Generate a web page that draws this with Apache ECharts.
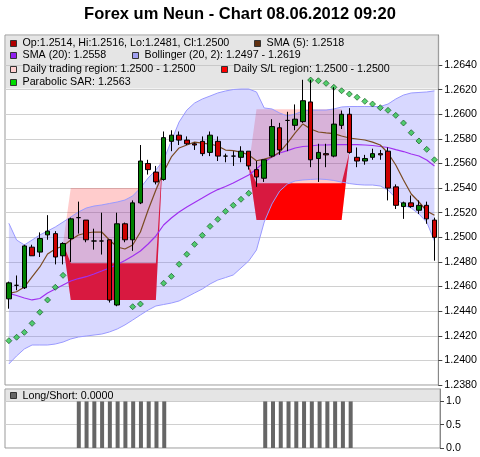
<!DOCTYPE html>
<html><head><meta charset="utf-8">
<script src="https://cdn.jsdelivr.net/npm/echarts@6/dist/echarts.min.js"></script>
<style>html,body{margin:0;padding:0;background:#fff}#c{width:480px;height:457px}</style>
</head><body><div id="c"></div>
<script>
const chartTitle = 'Forex um Neun - Chart 08.06.2012 09:20';
const opens = [1.2450,1.2461,1.2459,1.2492,1.2488,1.2502,1.2503,1.2485,1.2499,1.2516,
 1.2514,1.2497,1.2497,1.2498,1.2445,1.2511,1.2498,1.2528,1.2560,1.2553,
 1.2547,1.2578,1.2583,1.2579,1.2576,1.2578,1.2569,1.2578,1.2566,1.2566,
 1.2565,1.2570,1.2555,1.2548,1.2566,1.2589,1.2595,1.2591,1.2594,1.2610,
 1.2564,1.2568,1.2566,1.2591,1.2600,1.2565,1.2562,1.2565,1.2568,1.2570,
 1.2541,1.2525,1.2528,1.2522,1.2526,1.2514];
const highs = [1.2464,1.2469,1.2494,1.2494,1.2504,1.2518,1.2505,1.2496,1.2516,1.2529,
 1.2514,1.2507,1.2520,1.2498,1.2520,1.2512,1.2530,1.2575,1.2563,1.2558,
 1.2586,1.2587,1.2586,1.2582,1.2577,1.2582,1.2586,1.2582,1.2568,1.2570,
 1.2574,1.2570,1.2562,1.2563,1.2596,1.2593,1.2602,1.2608,1.2628,1.2628,
 1.2576,1.2576,1.2622,1.2603,1.2605,1.2573,1.2567,1.2572,1.2571,1.2573,
 1.2543,1.2529,1.2534,1.2530,1.2529,1.2516];
const lows = [1.2442,1.2457,1.2458,1.2485,1.2484,1.2498,1.2478,1.2478,1.2480,1.2503,
 1.2496,1.2490,1.2486,1.2447,1.2444,1.2496,1.2489,1.2527,1.2551,1.2543,
 1.2546,1.2570,1.2575,1.2575,1.2571,1.2566,1.2566,1.2562,1.2561,1.2558,
 1.2561,1.2555,1.2541,1.2545,1.2565,1.2567,1.2570,1.2587,1.2593,1.2557,
 1.2545,1.2557,1.2565,1.2588,1.2568,1.2557,1.2559,1.2563,1.2563,1.2530,
 1.2523,1.2515,1.2524,1.2519,1.2511,1.2481];
const closes = [1.2463,1.2461,1.2493,1.2485,1.2499,1.2505,1.2484,1.2495,1.2515,1.2516,
 1.2498,1.2497,1.2497,1.2449,1.2511,1.2498,1.2528,1.2562,1.2555,1.2545,
 1.2581,1.2583,1.2579,1.2576,1.2575,1.2568,1.2583,1.2566,1.2566,1.2566,
 1.2570,1.2558,1.2549,1.2563,1.2590,1.2571,1.2595,1.2596,1.2611,1.2563,
 1.2569,1.2567,1.2592,1.2600,1.2569,1.2562,1.2564,1.2568,1.2567,1.2540,
 1.2526,1.2528,1.2525,1.2526,1.2515,1.2500];
const sma5 = [1.24545,1.24558,1.24596,1.24678,1.24759,1.24864,1.24905,1.24929,1.24978,1.25019,
 1.25035,1.25043,1.25043,1.24978,1.24921,1.24905,1.24938,1.25043,1.25222,1.25384,
 1.25531,1.25653,1.25726,1.25750,1.25774,1.25766,1.25758,1.25742,1.25709,1.25705,
 1.25693,1.25669,1.25622,1.25636,1.25653,1.25693,1.25766,1.25848,1.25921,1.25880,
 1.25856,1.25848,1.25843,1.25823,1.25807,1.25799,1.25791,1.25774,1.25750,1.25685,
 1.25588,1.25466,1.25352,1.25287,1.25214,1.2518];
const sma20 = [1.24545,1.24527,1.24507,1.24491,1.24503,1.24548,1.24580,1.24613,1.24645,1.24665,
 1.24680,1.24702,1.24726,1.24751,1.24779,1.24812,1.24848,1.24889,1.24946,1.25011,
 1.25100,1.25157,1.25206,1.25246,1.25283,1.25319,1.25356,1.25388,1.25413,1.25441,
 1.25474,1.25506,1.25555,1.25612,1.25653,1.25685,1.25705,1.25726,1.25738,1.25742,
 1.25750,1.25750,1.25754,1.25754,1.25754,1.25754,1.25750,1.25746,1.25738,1.25730,
 1.25713,1.25697,1.25677,1.25661,1.25628,1.2558];
const bollUpper = [1.25114,1.24978,1.24938,1.24978,1.25019,1.25051,1.25084,1.25124,1.25165,1.25206,
 1.25238,1.25254,1.25263,1.25275,1.25287,1.25303,1.25336,1.25401,1.25482,1.25547,
 1.25628,1.25783,1.25937,1.26034,1.26091,1.26124,1.26148,1.26173,1.26189,1.26201,
 1.26205,1.26205,1.26181,1.26051,1.26043,1.26010,1.25986,1.26002,1.26026,1.26034,
 1.26034,1.26034,1.26043,1.26059,1.26063,1.26063,1.26063,1.26063,1.26063,1.26083,
 1.26124,1.26156,1.26173,1.26177,1.26181,1.2619];
const bollLower = [1.23971,1.24036,1.24093,1.24125,1.24125,1.24125,1.24133,1.24149,1.24174,1.24190,
 1.24198,1.24206,1.24214,1.24231,1.24255,1.24288,1.24328,1.24369,1.24409,1.24442,
 1.24454,1.24466,1.24483,1.24515,1.24548,1.24580,1.24621,1.24653,1.24673,1.24694,
 1.24751,1.24808,1.24897,1.25124,1.25271,1.25376,1.25433,1.25458,1.25466,1.25470,
 1.25474,1.25470,1.25462,1.25449,1.25437,1.25429,1.25425,1.25425,1.25417,1.25384,
 1.25319,1.25263,1.25238,1.25189,1.25124,1.2497];
const sar = [1.24160,1.24188,1.24228,1.24301,1.24391,1.24491,1.24594,1.24691,null,null,
 null,null,null,null,null,null,1.24436,1.24458,null,null,
 1.24627,1.24683,1.24781,1.24862,1.24943,1.25016,1.25089,1.25146,1.25211,1.25260,
 1.25309,1.25358,null,null,null,null,null,null,null,1.26278,
 1.26272,1.26251,1.26219,1.26191,1.26164,1.26138,1.26105,1.26083,1.26053,1.26032,
 1.25991,1.25929,1.25850,1.25783,1.25715,1.2563];
const regionLow = [null,null,null,null,null,null,null,1.2495,1.2449,1.2449,
 1.2449,1.2449,1.2449,1.2449,1.2449,1.2449,1.2449,1.2449,1.2449,1.2449,
 1.2581,null,null,null,null,null,null,null,null,null,
 null,1.2558,1.2514,1.2514,1.2514,1.2514,1.2514,1.2514,1.2514,1.2514,
 1.2514,1.2514,1.2514,1.2514,1.2569,null,null,null,null,null,
 null,null,null,null,null,null];
const tradeHigh = [null,null,null,null,null,null,null,1.2495,1.2540,1.2540,
 1.2540,1.2540,1.2540,1.2540,1.2540,1.2540,1.2540,1.2540,1.2540,1.2540,
 1.2581,null,null,null,null,null,null,null,null,null,
 null,1.2558,1.2604,1.2604,1.2604,1.2604,1.2604,1.2604,1.2604,1.2604,
 1.2604,1.2604,1.2604,1.2604,1.2569,null,null,null,null,null,
 null,null,null,null,null,null];
const stopHigh = [null,null,null,null,null,null,null,1.2495,1.2479,1.2479,
 1.2479,1.2479,1.2479,1.2479,1.2479,1.2479,1.2479,1.2479,1.2479,1.2479,
 1.2581,null,null,null,null,null,null,null,null,null,
 null,1.2558,1.2544,1.2544,1.2544,1.2544,1.2544,1.2544,1.2544,1.2544,
 1.2544,1.2544,1.2544,1.2544,1.2569,null,null,null,null,null,
 null,null,null,null,null,null];
const longShort = [0,0,0,0,0,0,0,0,0,1,1,1,1,1,1,1,1,1,1,1,1,0,0,0,0,0,0,0,0,0,
 0,0,0,1,1,1,1,1,1,1,1,1,1,1,1,0,0,0,0,0,0,0,0,0,0,0];
const priceTicks = [1.2380,1.2400,1.2420,1.2440,1.2460,1.2480,1.2500,1.2520,1.2540,1.2560,1.2580,1.2600,1.2620,1.2640];
const lsTicks = [0,0.5,1.0];
const legendMain = [
  ['Op:1.2514, Hi:1.2516, Lo:1.2481, Cl:1.2500', '#b00000'],
  ['SMA (5): 1.2518', '#603010'],
  ['SMA (20): 1.2558', '#9020f0'],
  ['Bollinger (20, 2): 1.2497 - 1.2619', '#a0a0f0'],
  ['Daily trading region: 1.2500 - 1.2500', '#ffd0d0'],
  ['Daily S/L region: 1.2500 - 1.2500', '#ff0000'],
  ['Parabolic SAR: 1.2563', '#00dd00']
];
const legendLower = ['Long/Short: 0.0000', '#666666'];

const cats = opens.map((_, i) => String(i));
const ohlc = opens.map((o, i) => [o, closes[i], lows[i], highs[i]]);
const diff = (a, b) => a.map((v, i) => (v == null || b[i] == null) ? null : +(v - b[i]).toFixed(6));

const FONT = '"Liberation Sans", Arial, sans-serif';
const chart = echarts.init(document.getElementById('c'), null, {renderer: 'canvas'});

const legPos = [
  [10, 43.5], [254, 43.5],
  [10, 55.3], [132, 55.3],
  [10, 69.3], [221, 69.3],
  [10, 82.3]
];
const graphics = [
  {type: 'text', z: 100, style: {text: chartTitle, x: 240, y: 14, align: 'center', verticalAlign: 'middle', font: 'bold 16.5px ' + FONT, fill: '#000'}},
  {type: 'rect', z: 1, shape: {x: 5.5, y: 35.5, width: 434, height: 53}, style: {fill: 'rgba(190,190,190,0.4)'}},
  {type: 'rect', z: 1, shape: {x: 5.5, y: 389.5, width: 434, height: 12}, style: {fill: 'rgba(190,190,190,0.4)'}}
];
legendMain.forEach((it, k) => {
  const [x, y] = legPos[k];
  graphics.push({type: 'rect', z: 100, shape: {x: x + 0.5, y: Math.round(y - 3.5) + 0.5, width: 6, height: 6}, style: {fill: it[1], stroke: '#333', lineWidth: 1}});
  graphics.push({type: 'text', z: 100, style: {text: it[0], x: x + 12.5, y: y, verticalAlign: 'middle', font: '10.7px ' + FONT, fill: '#000'}});
});
graphics.push({type: 'rect', z: 100, shape: {x: 10.5, y: 392.5, width: 6, height: 6}, style: {fill: legendLower[1], stroke: '#333', lineWidth: 1}});
graphics.push({type: 'text', z: 100, style: {text: legendLower[0], x: 22.5, y: 396, verticalAlign: 'middle', font: '10.7px ' + FONT, fill: '#000'}});

const areaLine = (name, data, stack, color, z) => ({
  name, type: 'line', data, stack, symbol: 'none', z, silent: true,
  lineStyle: {opacity: 0}, areaStyle: color ? {color, opacity: 1} : undefined,
  xAxisIndex: 0, yAxisIndex: 0
});

const option = {
  animation: false,
  backgroundColor: '#fff',
  graphic: {elements: graphics},
  grid: [
    {left: 5, right: 40, top: 35, bottom: 72, show: true, borderColor: '#999', borderWidth: 1, backgroundColor: '#fff'},
    {left: 5, right: 40, top: 389, bottom: 9, show: true, borderColor: '#999', borderWidth: 1, backgroundColor: '#fff'}
  ],
  xAxis: [
    {type: 'category', data: cats, gridIndex: 0, boundaryGap: true, axisLine: {show: false}, axisTick: {show: false}, axisLabel: {show: false}, splitLine: {show: false}},
    {type: 'category', data: cats, gridIndex: 1, boundaryGap: true, axisLine: {show: false}, axisTick: {show: false}, axisLabel: {show: false}, splitLine: {show: false}}
  ],
  yAxis: [
    {type: 'value', gridIndex: 0, position: 'right', min: 1.238, max: 1.26644, interval: 0.002,
     axisLine: {show: true, lineStyle: {color: '#888'}},
     axisTick: {show: true, length: 4, customValues: priceTicks, lineStyle: {color: '#444'}},
     axisLabel: {margin: 6, customValues: priceTicks, formatter: v => v.toFixed(4), color: '#000', fontSize: 10.7, fontFamily: FONT},
     splitLine: {show: true, lineStyle: {color: '#d0d0d0', width: 1}}},
    {type: 'value', gridIndex: 1, position: 'right', min: 0, max: 1.266, interval: 0.5,
     axisLine: {show: true, lineStyle: {color: '#888'}},
     axisTick: {show: true, length: 4, customValues: lsTicks, lineStyle: {color: '#444'}},
     axisLabel: {margin: 6, customValues: lsTicks, formatter: v => v.toFixed(1), color: '#000', fontSize: 10.7, fontFamily: FONT},
     splitLine: {show: true, lineStyle: {color: '#d0d0d0', width: 1}}}
  ],
  series: [
    areaLine('tradeBase', regionLow, 'trade', null, 2),
    areaLine('Daily trading region', diff(tradeHigh, regionLow), 'trade', 'rgba(255,0,0,0.2)', 2),
    areaLine('stopBase', regionLow, 'stop', null, 2),
    areaLine('Daily S/L region', diff(stopHigh, regionLow), 'stop', '#ff0000', 2),
    areaLine('bandBase', bollLower, 'band', null, 3),
    areaLine('Bollinger', diff(bollUpper, bollLower), 'band', 'rgba(100,100,255,0.25)', 3),
    {name: 'BollUpper', type: 'line', data: bollUpper, symbol: 'none', z: 4, lineStyle: {color: '#9a9aff', width: 1}},
    {name: 'BollLower', type: 'line', data: bollLower, symbol: 'none', z: 4, lineStyle: {color: '#9a9aff', width: 1}},
    {name: 'SMA (20)', type: 'line', data: sma20, symbol: 'none', z: 4, lineStyle: {color: '#a030f0', width: 1.2}},
    {name: 'SMA (5)', type: 'line', data: sma5, symbol: 'none', z: 4, lineStyle: {color: '#7a4a22', width: 1.2}},
    {name: 'Parabolic SAR', type: 'scatter', data: sar, symbol: 'diamond', symbolSize: 6, z: 5,
     itemStyle: {color: '#2ec84c', borderColor: '#0a4a14', borderWidth: 0.8}},
    {name: 'Candles', type: 'candlestick', data: ohlc, z: 6, barWidth: 5,
     itemStyle: {color: '#008000', color0: '#cc0000', borderColor: '#000', borderColor0: '#000', borderWidth: 1}},
    {name: 'Long/Short', type: 'bar', data: longShort, xAxisIndex: 1, yAxisIndex: 1, barWidth: 4,
     itemStyle: {color: '#666666'}, z: 2}
  ]
};
chart.setOption(option);
</script></body></html>
